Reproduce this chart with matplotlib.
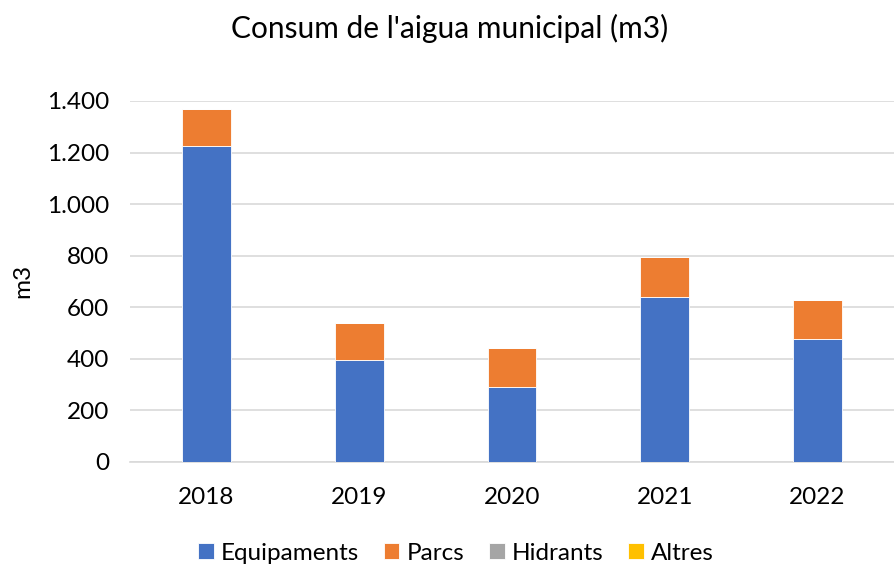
import matplotlib
matplotlib.use("Agg")
import matplotlib.pyplot as plt
from matplotlib.ticker import FuncFormatter
import numpy as np

plt.rcParams['font.family'] = ['Lato', 'DejaVu Sans']

years = ["2018", "2019", "2020", "2021", "2022"]
equipaments = [1227, 395, 290, 640, 477]
parcs = [142, 144, 150, 154, 149]
hidrants = [0, 0, 0, 0, 0]
altres = [0, 0, 0, 0, 0]

series = [("Equipaments", equipaments, "#4472C4"),
          ("Parcs", parcs, "#ED7D31"),
          ("Hidrants", hidrants, "#A5A5A5"),
          ("Altres", altres, "#FFC000")]

fig = plt.figure(figsize=(8.94, 5.67), dpi=100)
ax = fig.add_axes([0.1454, 0.1857, 0.8546, 0.6362])

x = np.arange(len(years))
bottom = np.zeros(len(years))
for name, vals, col in series:
    v = np.array(vals, dtype=float)
    ax.bar(x, v, 0.32, bottom=bottom, color=col, label=name,
           edgecolor="white", linewidth=0.6, zorder=3)
    bottom += v

ax.set_xlim(-0.5, 4.5)
ax.set_ylim(0, 1400)
ax.set_yticks(np.arange(0, 1401, 200))
ax.yaxis.set_major_formatter(FuncFormatter(lambda v, p: f"{int(v):,}".replace(",", ".")))
ax.set_xticks(x)
ax.set_xticklabels(years)
ax.grid(axis="y", color="#D9D9D9", linewidth=1.2, zorder=0)
for s in ["top", "right", "left"]:
    ax.spines[s].set_visible(False)
ax.spines["bottom"].set_color("#D9D9D9")
ax.spines["bottom"].set_linewidth(1.2)
ax.tick_params(axis="y", length=0, labelsize=17.5, colors="black", pad=15)
ax.tick_params(axis="x", length=0, labelsize=17.5, colors="black", pad=18)
ax.set_ylabel("m3", fontsize=17.5, labelpad=10)

fig.suptitle("Consum de l'aigua municipal (m3)", fontsize=21.5, x=0.503, y=0.975)

handles, labels = ax.get_legend_handles_labels()
fig.legend(handles, labels, loc="center", bbox_to_anchor=(0.51, 0.024), ncol=4,
           frameon=False, fontsize=17.5, handlelength=0.65, handleheight=0.65,
           handletextpad=0.3, columnspacing=1.0)

fig.savefig("out.png", dpi=100)
